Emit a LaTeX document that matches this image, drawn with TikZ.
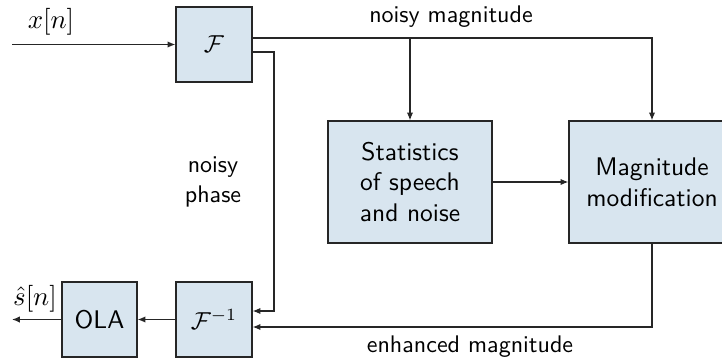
\documentclass[tikz,border=0pt]{standalone}
\usetikzlibrary{arrows.meta,calc}
\definecolor{boxfill}{RGB}{216,229,239}
\begin{document}
\begin{tikzpicture}[x=0.408pt,y=-0.408pt,
  font=\sffamily,
  blk/.style={draw=black!85,fill=boxfill,line width=0.5pt,inner sep=0pt,align=center,
    font=\sffamily\fontsize{10.4}{12.6}\selectfont},
  conn/.style={draw=black!85,line width=0.5pt},
  arr/.style={conn,-{Latex[length=3.2pt,width=2.6pt]}},
  lbl/.style={inner sep=0pt,align=center,font=\sffamily\fontsize{9.8}{12.6}\selectfont},
  mlbl/.style={inner sep=0pt,font=\fontsize{10.7}{13}\selectfont}]
\clip (0,0) rectangle (722,361);
\useasboundingbox (0,0) rectangle (722,361);
\node[blk,minimum width=76*0.408pt,minimum height=75*0.408pt] (F) at (214,44.5) {$\mathcal{F}$};
\node[blk,minimum width=164*0.408pt,minimum height=122*0.408pt] (Stat) at (410,182) {Statistics\\of speech\\and noise};
\node[blk,minimum width=166*0.408pt,minimum height=122*0.408pt] (Mag) at (652,182) {Magnitude\\modification};
\node[blk,minimum width=76*0.408pt,minimum height=75*0.408pt] (Finv) at (214,319.5) {$\mathcal{F}^{-1}$};
\node[blk,minimum width=75*0.408pt,minimum height=75*0.408pt] (OLA) at (99.5,319.5) {OLA};
\coordinate (in) at (12,44.5);
\coordinate (out) at (12,319.5);
\coordinate (top) at (0,38);
\coordinate (ph) at (274,52);
\coordinate (phb) at (274,311);
\coordinate (en) at (0,327);
\node[mlbl] (xn) at (51,22) {$x[n]$};
\node[mlbl] (sn) at (35,299) {$\hat{s}[n]$};
\node[lbl] (nm) at (451,17) {noisy magnitude};
\node[lbl] (np) at (213,182) {noisy\\phase};
\node[lbl] (em) at (470,347) {enhanced magnitude};
\draw[arr] (in) -- (F.west);
\draw[arr] (F.east |- top) -- (top -| Mag.north) -- (Mag.north);
\draw[arr] (top -| Stat.north) -- (Stat.north);
\draw[arr] (F.east |- ph) -- (ph) -- (phb) -- (Finv.east |- phb);
\draw[arr] (Stat.east) -- (Mag.west);
\draw[arr] (Mag.south) -- (Mag.south |- en) -- (Finv.east |- en);
\draw[arr] (Finv.west) -- (OLA.east);
\draw[arr] (OLA.west) -- (out);
\end{tikzpicture}
\end{document}
